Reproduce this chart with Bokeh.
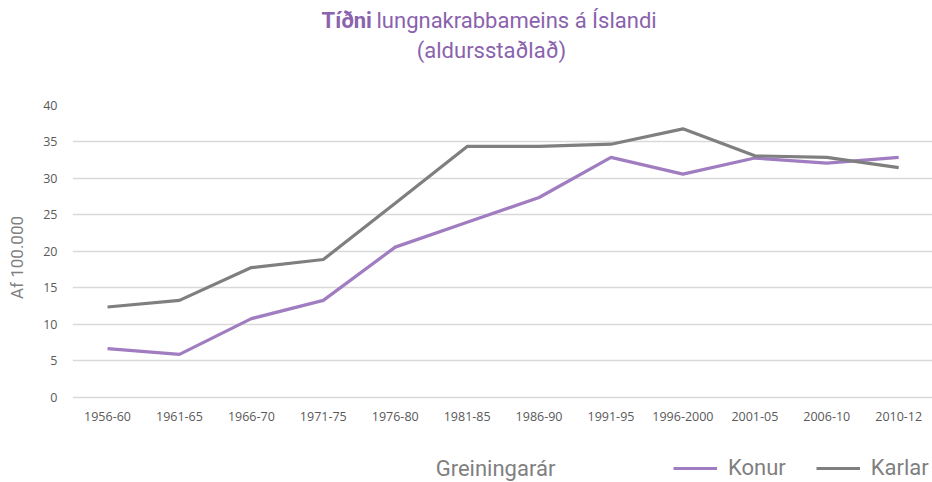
from bokeh.plotting import figure
from bokeh.layouts import column
from bokeh.models import Label, Legend, LegendItem, FixedTicker, Range1d
from bokeh.embed import file_html
from bokeh.resources import INLINE

periods = ["1956-60", "1961-65", "1966-70", "1971-75", "1976-80", "1981-85",
           "1986-90", "1991-95", "1996-2000", "2001-05", "2006-10", "2010-12"]
konur = [6.7, 5.9, 10.8, 13.3, 20.6, 24.0, 27.4, 32.9, 30.6, 32.8, 32.1, 32.9]
karlar = [12.4, 13.3, 17.8, 18.9, 26.6, 34.4, 34.4, 34.7, 36.8, 33.1, 32.9, 31.5]
y_ticks = [0, 5, 10, 15, 20, 25, 30, 35, 40]

xs = list(range(len(periods)))

PURPLE = "#a07cc0"
TITLE_PURPLE = "#8a62ad"
GRAY = "#7f7f7f"
TICK = "#595959"
FONT = "Roboto"
TFONT = "Open Sans"

W = 932
LEFT = 72                      # frames of all three rows line up at x = 72
TOP_H, MAIN_H, BOT_H = 74, 378, 30


def strip(h):
    s = figure(width=W, height=h, output_backend="svg", toolbar_location=None,
               x_range=Range1d(0, 1), y_range=Range1d(0, 1),
               x_axis_location=None, y_axis_location=None,
               min_border_left=LEFT, min_border_right=0, min_border_top=0, min_border_bottom=0)
    s.grid.visible = False
    s.outline_line_color = None
    s.background_fill_color = "white"
    s.border_fill_color = "white"
    return s


def lab(fig, x, y, text, size, color, style="normal", align="left"):
    # x: page pixels from left; y: pixels up from the strip's bottom
    fig.add_layout(Label(x=x - LEFT, y=y, x_units="screen", y_units="screen", text=text,
                         text_font=FONT, text_font_size=size, text_font_style=style,
                         text_color=color, text_align=align, text_baseline="alphabetic"))


# ---- title strip ----
pt = strip(TOP_H)
lab(pt, 321, 54, "Tíðni", "22px", TITLE_PURPLE, style="bold")
lab(pt, 376, 54, "lungnakrabbameins á Íslandi", "22px", TITLE_PURPLE)
lab(pt, 491, 24, "(aldursstaðlað)", "22px", TITLE_PURPLE, align="center")

# ---- main chart ----
p = figure(width=W, height=MAIN_H, output_backend="svg", toolbar_location=None,
           x_range=Range1d(-0.487, 11.47), y_range=Range1d(-1.644, 40),
           min_border_left=LEFT, min_border_right=0, min_border_top=31, min_border_bottom=43)
p.outline_line_color = None
p.background_fill_color = "white"
p.border_fill_color = "white"

p.line(xs, konur, line_color=PURPLE, line_width=3.2)
p.line(xs, karlar, line_color=GRAY, line_width=3.2)

p.xaxis.ticker = FixedTicker(ticks=xs)
p.xaxis.major_label_overrides = {i: s for i, s in enumerate(periods)}
p.xaxis.axis_line_color = None
p.xaxis.major_tick_line_color = None
p.xaxis.major_tick_out = 0
p.xaxis.minor_tick_line_color = None
p.xaxis.major_label_text_font = TFONT
p.xaxis.major_label_text_font_size = "12.5px"
p.xaxis.major_label_text_color = TICK
p.xaxis.major_label_standoff = 2

p.yaxis.ticker = FixedTicker(ticks=y_ticks)
p.yaxis.axis_line_color = None
p.yaxis.major_tick_line_color = None
p.yaxis.major_tick_out = 0
p.yaxis.minor_tick_line_color = None
p.yaxis.major_label_text_font = TFONT
p.yaxis.major_label_text_font_size = "12.5px"
p.yaxis.major_label_text_color = TICK
p.yaxis.major_label_standoff = 15
p.yaxis.axis_label = "Af 100.000"
p.yaxis.axis_label_text_font = FONT
p.yaxis.axis_label_text_font_size = "17px"
p.yaxis.axis_label_text_font_style = "normal"
p.yaxis.axis_label_text_color = GRAY
p.yaxis.axis_label_standoff = 13

p.xgrid.grid_line_color = None
p.ygrid.grid_line_color = "#d9d9d9"
p.ygrid.grid_line_width = 1.3

# ---- bottom strip: axis title and legend ----
pb = strip(BOT_H)
lab(pb, 495, 14, "Greiningarár", "22px", GRAY, align="center")
nan = float("nan")
k_r = pb.line([nan], [nan], line_color=PURPLE, line_width=3.2)
m_r = pb.line([nan], [nan], line_color=GRAY, line_width=3.2)
legend = Legend(items=[LegendItem(label="Konur", renderers=[k_r]),
                       LegendItem(label="Karlar", renderers=[m_r])],
                orientation="horizontal", location=(673 - LEFT, 2))
legend.label_text_font = FONT
legend.label_text_font_size = "22px"
legend.label_text_color = GRAY
legend.glyph_width = 44
legend.glyph_height = 24
legend.label_height = 24
legend.spacing = 30
legend.label_standoff = 11
legend.border_line_color = None
legend.background_fill_alpha = 0
legend.padding = 0
legend.margin = 0
pb.add_layout(legend, "center")

layout = column(pt, p, pb, spacing=0)
open("out.html", "w").write(file_html(layout, INLINE))
